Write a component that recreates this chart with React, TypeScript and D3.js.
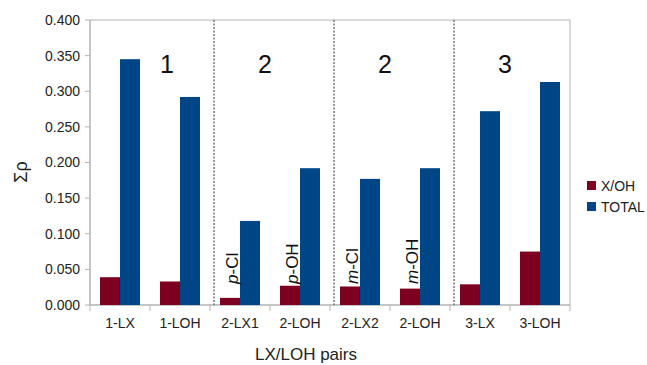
import React from "react";
import * as d3 from "d3";

const categories = ["1-LX", "1-LOH", "2-LX1", "2-LOH", "2-LX2", "2-LOH", "3-LX", "3-LOH"];
const xohValues = [0.039, 0.033, 0.010, 0.027, 0.026, 0.023, 0.029, 0.075];
const totalValues = [0.345, 0.292, 0.118, 0.192, 0.177, 0.192, 0.272, 0.313];
const yTicks = [0, 0.05, 0.1, 0.15, 0.2, 0.25, 0.3, 0.35, 0.4];
const seriesNames = ["X/OH", "TOTAL"];
const seriesColors = ["#7e0021", "#004586"];
// group labels: [first category index, last category index, label]
const groups: [number, number, string][] = [
  [0, 1, "1"],
  [2, 3, "2"],
  [4, 5, "2"],
  [6, 7, "3"],
];
// rotated substituent annotations: [category index, italic prefix, rest]
const substituents: [number, string, string][] = [
  [2, "p", "-Cl"],
  [3, "p", "-OH"],
  [4, "m", "-Cl"],
  [5, "m", "-OH"],
];

const W = 647;
const H = 365;
const left = 90;
const right = 570;
const top = 20;
const bottom = 305;
const font = "'Liberation Sans', Arial, sans-serif";

export default function App() {
  const x = d3.scaleBand<number>().domain(d3.range(categories.length)).range([left, right]);
  // two bars side by side, each a third of the category width, centred
  const barW = x.bandwidth() / 3;
  const inner = d3.scaleBand<number>().domain([0, 1]).range([barW / 2, barW * 2.5]);
  const y = d3.scaleLinear().domain([0, 0.4]).range([bottom, top]);
  const series = [xohValues, totalValues];
  const fmt = d3.format(".3f");

  return (
    <svg width={W} height={H} style={{ position: "absolute", left: 0, top: 0, background: "#fff" }}>
      {/* frame */}
      <line x1={left} x2={right} y1={top} y2={top} stroke="#b3b3b3" />
      <line x1={right} x2={right} y1={top} y2={bottom} stroke="#b3b3b3" />
      <line x1={left} x2={left} y1={top} y2={bottom} stroke="#b3b3b3" strokeWidth={1.5} />
      <line x1={left} x2={right} y1={bottom} y2={bottom} stroke="#b3b3b3" strokeWidth={1.5} />

      {/* y axis */}
      {yTicks.map((t) => (
        <g key={t}>
          <line x1={left - 5} x2={left} y1={y(t)} y2={y(t)} stroke="#b3b3b3" />
          <text x={80} y={y(t)} dy="0.35em" textAnchor="end" fontFamily={font} fontSize={14} fill="#222">
            {fmt(t)}
          </text>
        </g>
      ))}

      {/* x axis ticks */}
      {d3.range(categories.length + 1).map((i) => {
        const xx = left + i * x.bandwidth();
        return <line key={i} x1={xx} x2={xx} y1={bottom} y2={bottom + 6} stroke="#b3b3b3" />;
      })}
      {categories.map((c, i) => (
        <text key={i} x={x(i)! + x.bandwidth() / 2} y={328} textAnchor="middle" fontFamily={font} fontSize={14} fill="#222">
          {c}
        </text>
      ))}

      {/* group separators */}
      {groups.slice(1).map((g, i) => {
        const xx = x(g[0])! + 4;
        return <line key={i} x1={xx} x2={xx} y1={top} y2={bottom} stroke="#555" strokeWidth={1.2} strokeDasharray="2,1.5" />;
      })}

      {/* bars */}
      {series.map((vals, s) =>
        vals.map((v, i) => (
          <rect
            key={`${s}-${i}`}
            x={x(i)! + inner(s)!}
            y={y(v)}
            width={inner.bandwidth()}
            height={bottom - y(v)}
            fill={seriesColors[s]}
          />
        ))
      )}

      {/* group labels */}
      {groups.map((g, i) => {
        const mid = (x(g[0])! + x(g[1])! + x.bandwidth()) / 2;
        const cx = i === 0 ? mid + 17 : mid - 5;
        return (
          <text key={i} x={cx} y={73} textAnchor="middle" fontFamily={font} fontSize={25} fill="#111">
            {g[2]}
          </text>
        );
      })}

      {/* substituent annotations */}
      {substituents.map(([i, pre, rest]) => {
        const cx = x(i)! + inner(0)! + inner.bandwidth() / 2 + 2;
        return (
          <text
            key={i}
            transform={`translate(${cx},${284}) rotate(-90)`}
            fontFamily={font}
            fontSize={17}
            fill="#111"
            dy="0.35em"
          >
            <tspan fontStyle="italic">{pre}</tspan>
            {rest}
          </text>
        );
      })}

      {/* axis titles */}
      <text transform={`translate(21,${172}) rotate(-90)`} textAnchor="middle" fontFamily={font} fontSize={18} fill="#222" dy="0.35em">
        Σρ
      </text>
      <text x={306} y={360} textAnchor="middle" fontFamily={font} fontSize={17} fill="#222">
        LX/LOH pairs
      </text>

      {/* legend */}
      {seriesNames.map((n, s) => (
        <g key={n} transform={`translate(587,${186 + s * 21})`}>
          <rect x={0} y={-5} width={9} height={9} fill={seriesColors[s]} />
          <text x={14} y={0} dy="0.35em" fontFamily={font} fontSize={14} fill="#222">
            {n}
          </text>
        </g>
      ))}
    </svg>
  );
}
